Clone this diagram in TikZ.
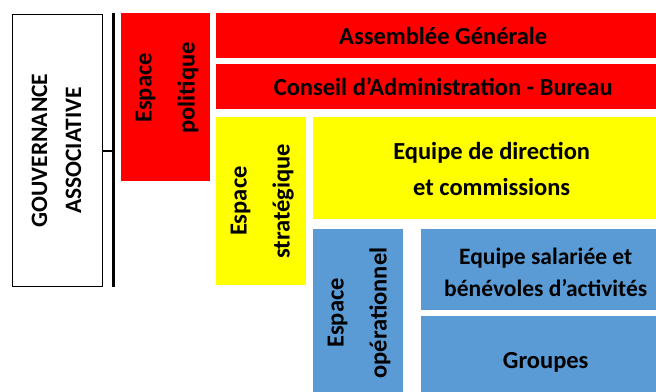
\documentclass[tikz,border=0pt]{standalone}
\usepackage{fontspec}
\setmainfont{Carlito}
\definecolor{cred}{RGB}{255,0,0}
\definecolor{cyel}{RGB}{255,255,0}
\definecolor{cblue}{RGB}{91,155,213}
\begin{document}
\begin{tikzpicture}[x=1pt,y=-1pt,
  blk/.style={draw=none, inner sep=0pt, anchor=north west},
  lbl/.style={font=\bfseries\fontsize{24.5}{36}\selectfont, align=center, text=black, inner sep=0pt},
  rlbl/.style={lbl, rotate=90, font=\bfseries\fontsize{24.5}{43}\selectfont}]
\useasboundingbox (0,0) rectangle (656,391);
\clip (0,0) rectangle (656,391);
\fill[white] (0,0) rectangle (656,391);
% governance
\node[draw, line width=1.5pt, minimum width=90pt, minimum height=272pt, anchor=north west] (gov) at (11.75,13.75) {};
\node[lbl, rotate=90, font=\bfseries\fontsize{23.5}{34}\selectfont] (govt) at ([xshift=-1pt]gov.center) {GOUVERNANCE\\ASSOCIATIVE};
\coordinate (lt) at (113,13);
\coordinate (lb) at (113,287);
\draw[line width=3pt] (lt) -- (lb);
\draw[line width=2pt] (gov.east) -- (gov.east -| lt);
% political
\node[blk, fill=cred, minimum width=89pt, minimum height=168pt] (pol) at (121,13) {};
\node[rlbl] (polt) at (167,88) {Espace\\politique};
\node[blk, fill=cred, minimum width=454pt, minimum height=45pt] (ag) at (216,13) {};
\node[lbl] (agt) at (ag.center) {Assemblée Générale};
\node[blk, fill=cred, minimum width=454pt, minimum height=45pt] (ca) at (216,64) {};
\node[lbl] (cat) at (ca.center) {Conseil d’Administration - Bureau};
% strategic
\node[blk, fill=cyel, minimum width=90pt, minimum height=168pt] (str) at (216,117) {};
\node[rlbl] (strt) at ([xshift=1pt]str.center) {Espace\\stratégique};
\node[blk, fill=cyel, minimum width=357pt, minimum height=102pt] (dir) at (313,117) {};
\node[lbl] (dirt) at ([yshift=-1pt]dir.center) {Equipe de direction\\et commissions};
% operational
\node[blk, fill=cblue, minimum width=90pt, minimum height=170pt] (op) at (313,229) {};
\node[rlbl] (opt) at (359,313) {Espace\\opérationnel};
\node[blk, fill=cblue, minimum width=249pt, minimum height=81pt] (sal) at (421,229) {};
\node[lbl, font=\bfseries\fontsize{23.5}{32}\selectfont] (salt) at ([yshift=-3pt]sal.center) {Equipe salariée et\\bénévoles d’activités};
\node[blk, fill=cblue, minimum width=249pt, minimum height=84pt] (grp) at (421,316) {};
\node[lbl] (grpt) at ([yshift=-4pt]grp.center) {Groupes};
\end{tikzpicture}
\end{document}
